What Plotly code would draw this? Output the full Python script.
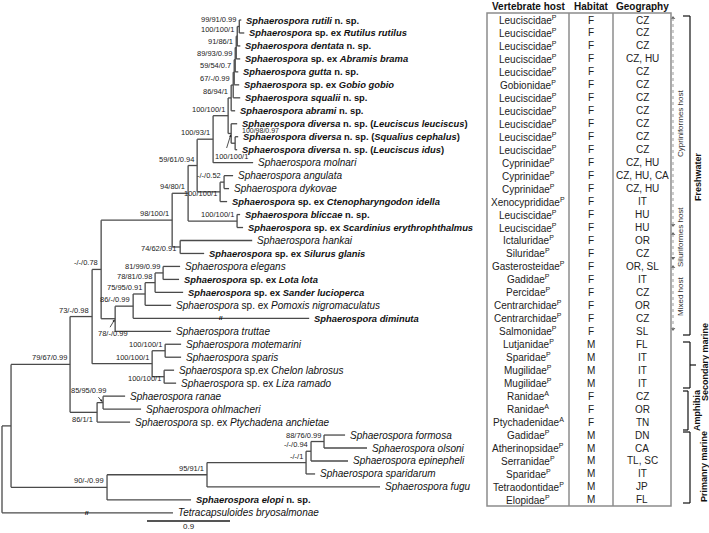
import plotly.graph_objects as go

# ---- tip labels (top to bottom) ----
taxa = [
    "<b><i>Sphaerospora rutili</i> n. sp.</b>",
    "<b><i>Sphaerospora</i> sp. ex <i>Rutilus rutilus</i></b>",
    "<b><i>Sphaerospora dentata</i> n. sp.</b>",
    "<b><i>Sphaerospora</i> sp. ex <i>Abramis brama</i></b>",
    "<b><i>Sphaerospora gutta</i> n. sp.</b>",
    "<b><i>Sphaerospora</i> sp. ex <i>Gobio gobio</i></b>",
    "<b><i>Sphaerospora squalii</i> n. sp.</b>",
    "<b><i>Sphaerospora abrami</i> n. sp.</b>",
    "<b><i>Sphaerospora diversa</i> n. sp. (<i>Leuciscus leuciscus</i>)</b>",
    "<b><i>Sphaerospora diversa</i> n. sp. (<i>Squalius cephalus</i>)</b>",
    "<b><i>Sphaerospora diversa</i> n. sp. (<i>Leuciscus idus</i>)</b>",
    "<i>Sphaerospora molnari</i>",
    "<i>Sphaerospora angulata</i>",
    "<i>Sphaerospora dykovae</i>",
    "<b><i>Sphaerospora</i> sp. ex <i>Ctenopharyngodon idella</i></b>",
    "<b><i>Sphaerospora bliccae</i> n. sp.</b>",
    "<b><i>Sphaerospora</i> sp. ex <i>Scardinius erythrophthalmus</i></b>",
    "<i>Sphaerospora hankai</i>",
    "<b><i>Sphaerospora</i> sp. ex <i>Silurus glanis</i></b>",
    "<i>Sphaerospora elegans</i>",
    "<b><i>Sphaerospora</i> sp. ex <i>Lota lota</i></b>",
    "<b><i>Sphaerospora</i> sp. ex <i>Sander lucioperca</i></b>",
    "<i>Sphaerospora</i> sp. ex <i>Pomoxis nigromaculatus</i>",
    "<b><i>Sphaerospora diminuta</i></b>",
    "<i>Sphaerospora truttae</i>",
    "<i>Sphaerospora motemarini</i>",
    "<i>Sphaerospora sparis</i>",
    "<i>Sphaerospora</i> sp.ex <i>Chelon labrosus</i>",
    "<i>Sphaerospora</i> sp. ex <i>Liza ramado</i>",
    "<i>Sphaerospora ranae</i>",
    "<i>Sphaerospora ohlmacheri</i>",
    "<i>Sphaerospora</i> sp. ex <i>Ptychadena anchietae</i>",
    "<i>Sphaerospora formosa</i>",
    "<i>Sphaerospora olsoni</i>",
    "<i>Sphaerospora epinepheli</i>",
    "<i>Sphaerospora sparidarum</i>",
    "<i>Sphaerospora fugu</i>",
    "<b><i>Sphaerospora elopi</i> n. sp.</b>",
    "<i>Tetracapsuloides bryosalmonae</i>",
]

# ---- table columns ----
host = ["Leuciscidae", "Leuciscidae", "Leuciscidae", "Leuciscidae", "Leuciscidae",
        "Gobionidae", "Leuciscidae", "Leuciscidae", "Leuciscidae", "Leuciscidae",
        "Leuciscidae", "Cyprinidae", "Cyprinidae", "Cyprinidae", "Xenocyprididae",
        "Leuciscidae", "Leuciscidae", "Ictaluridae", "Siluridae", "Gasterosteidae",
        "Gadidae", "Percidae", "Centrarchidae", "Centrarchidae", "Salmonidae",
        "Lutjanidae", "Sparidae", "Mugilidae", "Mugilidae", "Ranidae", "Ranidae",
        "Ptychadenidae", "Gadidae", "Atherinopsidae", "Serranidae", "Sparidae",
        "Tetraodontidae", "Elopidae"]
host_class = ["P"] * 29 + ["A", "A", "A"] + ["P"] * 6
habitat = ["F"] * 25 + ["M"] * 4 + ["F"] * 3 + ["M"] * 6
geography = ["CZ", "CZ", "CZ", "CZ, HU", "CZ", "CZ", "CZ", "CZ", "CZ", "CZ", "CZ",
             "CZ, HU", "CZ, HU, CA", "CZ, HU", "IT", "HU", "HU", "OR", "CZ", "OR, SL",
             "IT", "CZ", "OR", "CZ", "SL", "FL", "IT", "IT", "IT", "CZ", "OR", "TN",
             "DN", "CA", "TL, SC", "IT", "JP", "FL"]

# ---- tree: internal node, [(child, branch length)], support ----
nodes = [
    ("n1", [("t0", 0.022), ("t1", 0.054)], "99/91/0.99"),
    ("n2", [("n1", 0.022), ("t2", 0.033)], "100/100/1"),
    ("n3", [("n2", 0.011), ("t3", 0.043)], "91/86/1"),
    ("n4", [("n3", 0.011), ("t4", 0.033)], "89/93/0.99"),
    ("n5", [("n4", 0.011), ("t5", 0.054)], "59/54/0.7"),
    ("n6", [("n5", 0.011), ("t6", 0.076)], "67/-/0.99"),
    ("n7", [("n6", 0.022), ("t7", 0.043)], "86/94/1"),
    ("W", [("t9", 0.033), ("t10", 0.022)], "100/98/0.97"),
    ("V", [("t8", 0.065), ("W", 0.043)], "100/100/1"),
    ("U", [("n7", 0.033), ("V", 0.033)], "100/100/1"),
    ("R", [("U", 0.163), ("t11", 0.434)], "100/93/1"),
    ("T", [("t12", 0.098), ("t13", 0.054)], "-/-/0.52"),
    ("S", [("T", 0.043), ("t14", 0.076)], "100/100/1"),
    ("P", [("R", 0.173), ("S", 0.249)], "59/61/0.94"),
    ("Q", [("t15", 0.033), ("t16", 0.065)], "100/100/1"),
    ("N", [("P", 0.098), ("Q", 0.531)], "94/80/1"),
    ("O", [("t17", 0.781), ("t18", 0.260)], "74/62/0.91"),
    ("M", [("N", 0.173), ("O", 0.087)], "98/100/1"),
    ("I", [("t19", 0.184), ("t20", 0.173)], "81/99/0.99"),
    ("H", [("I", 0.087), ("t21", 0.304)], "78/81/0.98"),
    ("G", [("H", 0.108), ("t22", 0.282)], "75/95/0.91"),
    ("F", [("G", 0.130), ("t23", 1.909)], "86/-/0.99"),
    ("E", [("F", 0.195), ("t24", 0.607)], "78/-/0.99"),
    ("D", [("M", 0.770), ("E", 0.152)], "-/-/0.78"),
    ("K", [("t25", 0.173), ("t26", 0.173)], "100/100/1"),
    ("L", [("t27", 0.108), ("t28", 0.130)], "100/100/1"),
    ("J", [("K", 0.141), ("L", 0.130)], "100/100/1"),
    ("C", [("D", 0.098), ("J", 0.651)], "73/-/0.98"),
    ("Ra", [("t29", 0.239), ("t30", 0.412)], "85/95/0.99"),
    ("Am", [("Ra", 0.065), ("t31", 0.358)], "86/1/1"),
    ("B", [("C", 0.239), ("Am", 0.293)], "79/67/0.99"),
    ("X3", [("t32", 0.228), ("t33", 0.466)], "88/76/0.99"),
    ("X2", [("X3", 0.141), ("t34", 0.401)], "-/-/0.94"),
    ("X1", [("X2", 0.054), ("t35", 0.098)], "-/-/1"),
    ("PM2", [("X1", 1.074), ("t36", 1.876)], "95/91/1"),
    ("PM", [("PM2", 1.084), ("t37", 0.911)], "90/-/0.99"),
    ("A", [("B", 0.640), ("PM", 1.041)], ""),
    ("root", [("A", 0.098), ("t38", 1.854)], ""),
]
scale_len = 0.9

# ---- layout helpers (pixel -> axis) ----
PXU = 92.22   # pixels per substitution unit
ROW = 12.97   # pixels per tip row
def px_x(px):
    return (px - 2) / PXU
def px_y(py):
    return (py - 20) / ROW

FONT = "Liberation Sans, Arial, sans-serif"

children = {n: kids for n, kids, _ in nodes}
xpos, ypos = {}, {f"t{i}": i for i in range(len(taxa))}

def place(n, x):
    xpos[n] = x
    if n in children:
        for c, bl in children[n]:
            place(c, x + bl)
        ys = [ypos[c] for c, _ in children[n]]
        ypos[n] = (min(ys) + max(ys)) / 2

place("root", 0.0)

lx, ly = [], []
for n, kids, _ in nodes:
    ys = [ypos[c] for c, _ in kids]
    lx += [xpos[n], xpos[n], None]
    ly += [min(ys), max(ys), None]
    for c, _ in kids:
        lx += [xpos[n], xpos[c], None]
        ly += [ypos[c], ypos[c], None]

fig = go.Figure()
fig.add_trace(go.Scatter(x=lx, y=ly, mode="lines", line=dict(color="#4a4a4a", width=1.3),
                         hoverinfo="skip", showlegend=False))

ann = []
# tip labels
for i, t in enumerate(taxa):
    size = 9.4 if t.startswith("<b>") else 10
    ann.append(dict(x=xpos[f"t{i}"], y=i, text=t, xanchor="left", yanchor="middle", xshift=3,
                    showarrow=False, font=dict(family=FONT, size=size, color="#111")))

# support labels; default = above incoming branch, right aligned at node
special = {
    "V": ("left", "middle", -18, -23),
    "W": ("left", "middle", 5, 13),
    "E": ("center", "middle", -2, -15),
    "Ra": ("right", "middle", 5, 12),
    "Am": ("right", "top", -2, -1),
    "L": ("right", "middle", -1, -2),
    "S": ("right", "middle", -1, -2),
    "O": ("right", "middle", -2, -2),
}
for n, _, s in nodes:
    if not s:
        continue
    xa, ya, xs, ys = special.get(n, ("right", "bottom", -1, 0))
    size = 7 if n == "W" else 7.5
    ann.append(dict(x=xpos[n], y=ypos[n], text=s, xanchor=xa, yanchor=ya, xshift=xs, yshift=ys,
                    showarrow=False, font=dict(family=FONT, size=size, color="#222")))

# small arrows pointing from labels to crowded nodes
for n, ax, ay in [("V", -5, 16), ("E", -6, 10), ("Ra", -6, -7)]:
    ann.append(dict(x=xpos[n], y=ypos[n], ax=ax, ay=ay, text="", showarrow=True, arrowhead=2,
                    arrowsize=0.6, arrowwidth=0.8, arrowcolor="#222", standoff=1))

# break marks on truncated branches
for t, p in [("t23", "F"), ("t38", "root")]:
    ann.append(dict(x=(xpos[t] + xpos[p]) / 2, y=ypos[t], text="<b>//</b>", showarrow=False,
                    font=dict(family=FONT, size=6, color="#000")))

# scale bar
sb0 = px_x(147)
fig.add_shape(type="line", x0=sb0, x1=sb0 + scale_len, y0=px_y(521), y1=px_y(521),
              line=dict(color="#555", width=2))
ann.append(dict(x=sb0 + scale_len / 2, y=px_y(533), text=str(scale_len), showarrow=False,
                yanchor="bottom", font=dict(family=FONT, size=8, color="#222")))

# ---- table ----
col_host, col_hab, col_geo = px_x(528), px_x(591), px_x(642)
for cx, h in [(col_host, "Vertebrate host"), (col_hab, "Habitat"), (col_geo, "Geography")]:
    ann.append(dict(x=cx, y=px_y(6), text=f"<b>{h}</b>", showarrow=False,
                    font=dict(family=FONT, size=10, color="#111")))
for i in range(len(host)):
    for cx, txt in [(col_host, f"{host[i]}<sup>{host_class[i]}</sup>"),
                    (col_hab, habitat[i]), (col_geo, geography[i])]:
        ann.append(dict(x=cx, y=i, text=txt, showarrow=False,
                        font=dict(family=FONT, size=10, color="#222")))

tb = dict(color="#8c8c8c", width=1.5)
fig.add_shape(type="rect", x0=px_x(487), x1=px_x(671), y0=px_y(13), y1=px_y(506), line=tb)
for xc in (569, 613):
    fig.add_shape(type="line", x0=px_x(xc), x1=px_x(xc), y0=px_y(13), y1=px_y(506), line=tb)

# ---- host-group arrows (dotted) ----
ax_x = px_x(673)
for top, bot, label, cy in [(16, 227, "Cypriniformes host", 124),
                            (232, 260, "Siluriformes host", 237),
                            (265, 331, "Mixed host", 297)]:
    fig.add_shape(type="line", x0=ax_x, x1=ax_x, y0=px_y(top + 2), y1=px_y(bot - 2),
                  line=dict(color="#999", width=1, dash="dot"))
    fig.add_trace(go.Scatter(x=[ax_x, ax_x], y=[px_y(top + 2), px_y(bot - 2)], mode="markers",
                             marker=dict(symbol=["triangle-up", "triangle-down"], size=4,
                                         color="#666"),
                             hoverinfo="skip", showlegend=False))
    ann.append(dict(x=px_x(680), y=px_y(cy), text=label, textangle=-90, showarrow=False,
                    font=dict(family=FONT, size=8, color="#333")))

# ---- habitat brackets ----
bl = dict(color="#111", width=1.2)
for top, bot, bx, label, tx, cy, mid in [(16, 335, 690, "Freshwater", 698, 177, False),
                                          (342, 388, 690, "Secondary marine", 705, 362, True),
                                          (391, 430, 688, "Amphibia", 697, 410, False),
                                          (432, 503, 690, "Primanry marine", 704, 467, False)]:
    fig.add_shape(type="line", x0=px_x(bx), x1=px_x(bx), y0=px_y(top), y1=px_y(bot), line=bl)
    for yy in (top, bot):
        fig.add_shape(type="line", x0=px_x(683), x1=px_x(bx), y0=px_y(yy), y1=px_y(yy), line=bl)
    if mid:
        fig.add_shape(type="line", x0=px_x(bx), x1=px_x(bx + 6), y0=px_y(365), y1=px_y(365),
                      line=bl)
    ann.append(dict(x=px_x(tx), y=px_y(cy), text=f"<b>{label}</b>", textangle=-90,
                    showarrow=False, font=dict(family=FONT, size=9, color="#111")))

fig.update_layout(
    width=709, height=533,
    margin=dict(l=0, r=0, t=0, b=0),
    paper_bgcolor="white", plot_bgcolor="white",
    xaxis=dict(range=[px_x(0), px_x(709)], visible=False, fixedrange=True),
    yaxis=dict(range=[px_y(533), px_y(0)], visible=False, fixedrange=True),
    annotations=ann,
    showlegend=False,
)

# page body has a default 8px margin; drop it so the figure sits at the window corner
fig.write_html("out.html", config={"displayModeBar": False},
               post_script="document.body.style.margin='0';")
